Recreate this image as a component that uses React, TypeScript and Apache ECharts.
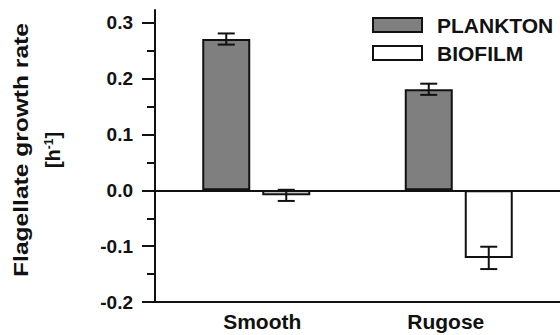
import React, { useEffect, useRef } from "react";
import * as echarts from "echarts";

const categories = ["Smooth", "Rugose"];
const seriesNames = ["PLANKTON", "BIOFILM"];
const planktonValues = [0.271, 0.181];
const biofilmValues = [-0.009, -0.121];
const planktonErrors = [0.01, 0.01];
const biofilmErrors = [0.01, 0.02];
const majorTicks = [-0.2, -0.1, 0, 0.1, 0.2, 0.3];
const minorTicks = [-0.15, -0.05, 0.05, 0.15, 0.25];

const FONT = "'Liberation Sans', Arial, Helvetica, sans-serif";
const INK = "#111";
const GRAY = "#7f7f7f";
const BAR_W = 48;
const BAR_GAP_PX = 12;
const OFFSET = (BAR_W + BAR_GAP_PX) / 2;

function errorSeries(values: number[], errors: number[], dx: number) {
  return {
    type: "custom",
    z: 5,
    silent: true,
    data: values.map((v, i) => [i, v - errors[i], v + errors[i]]),
    encode: { x: 0, y: [1, 2] },
    renderItem: (params: any, api: any) => {
      const idx = api.value(0);
      const lo = api.coord([idx, api.value(1)]);
      const hi = api.coord([idx, api.value(2)]);
      const x = lo[0] + dx;
      const half = 8.5;
      const style = { stroke: INK, lineWidth: 2, fill: "none" };
      return {
        type: "group",
        children: [
          { type: "line", shape: { x1: x, y1: lo[1], x2: x, y2: hi[1] }, style },
          { type: "line", shape: { x1: x - half, y1: lo[1], x2: x + half, y2: lo[1] }, style },
          { type: "line", shape: { x1: x - half, y1: hi[1], x2: x + half, y2: hi[1] }, style },
        ],
      };
    },
  };
}

function legendItem(name: string, fill: string, top: number) {
  return [
    {
      type: "rect",
      shape: { x: 373, y: top, width: 49, height: 14 },
      style: { fill, stroke: INK, lineWidth: 2 },
    },
    {
      type: "text",
      x: 437,
      y: top + 7.5,
      scaleX: 1.05,
      style: {
        text: name,
        fontSize: 20,
        fontWeight: "bold",
        fontFamily: FONT,
        fill: INK,
        align: "left",
        verticalAlign: "middle",
        textAlign: "left",
        textVerticalAlign: "middle",
      },
    },
  ];
}

export default function App() {
  const ref = useRef<HTMLDivElement>(null);
  useEffect(() => {
    if (!ref.current) return;
    const chart = echarts.init(ref.current, null, { renderer: "svg" });
    const yMin = -0.2;
    const yMax = 0.323;
    const xLabelStyle = { fontSize: 21, fontWeight: "bold", fontFamily: FONT, color: INK };
    chart.setOption({
      animation: false,
      backgroundColor: "#fff",
      grid: { left: 155, top: 10, width: 407, height: 292 },
      xAxis: {
        type: "category",
        data: categories,
        axisLine: { onZero: false, lineStyle: { color: INK, width: 2 } },
        axisTick: { show: false },
        axisLabel: {
          ...xLabelStyle,
          margin: 9,
          formatter: (v: string, i: number) => (i === 0 ? `{a|${v}}` : `{b|${v}}`),
          rich: {
            a: { ...xLabelStyle, padding: [0, 0, 0, 12] },
            b: { ...xLabelStyle, padding: [0, 26, 0, 0] },
          },
        },
      },
      yAxis: [
        {
          type: "value",
          min: yMin,
          max: yMax,
          splitLine: { show: false },
          axisLine: { show: true, lineStyle: { color: INK, width: 2 } },
          axisTick: { show: true, length: 13, customValues: majorTicks, lineStyle: { color: INK, width: 2 } },
          axisLabel: {
            customValues: majorTicks,
            formatter: (v: number) => v.toFixed(1),
            fontSize: 19,
            fontWeight: "bold",
            fontFamily: FONT,
            color: INK,
            margin: 22,
          },
        },
        {
          type: "value",
          min: yMin,
          max: yMax,
          position: "left",
          splitLine: { show: false },
          axisLine: { show: false },
          axisTick: { show: true, length: 8, customValues: minorTicks, lineStyle: { color: INK, width: 2 } },
          axisLabel: { show: false },
        },
      ],
      graphic: [
        ...legendItem(seriesNames[0], GRAY, 18),
        ...legendItem(seriesNames[1], "#fff", 46),
        {
          type: "text",
          x: 21,
          y: 150,
          rotation: Math.PI / 2,
          scaleX: 1.17,
          style: {
            text: "Flagellate growth rate",
            fontSize: 21,
            fontWeight: "bold",
            fontFamily: FONT,
            fill: INK,
            align: "center",
            verticalAlign: "middle",
            textAlign: "center",
            textVerticalAlign: "middle",
          },
        },
        {
          type: "text",
          x: 53,
          y: 150,
          rotation: Math.PI / 2,
          style: {
            text: "[h{sup|-1}]",
            fontSize: 20,
            fontWeight: "bold",
            fontFamily: FONT,
            fill: INK,
            align: "center",
            verticalAlign: "middle",
            textAlign: "center",
            textVerticalAlign: "middle",
            rich: {
              sup: {
                fontSize: 12,
                fontWeight: "bold",
                fontFamily: FONT,
                fill: INK,
                verticalAlign: "top",
              },
            },
          },
        },
      ],
      series: [
        {
          name: seriesNames[0],
          type: "bar",
          data: planktonValues,
          barWidth: BAR_W,
          barGap: (BAR_GAP_PX / BAR_W) * 100 + "%",
          itemStyle: { color: GRAY, borderColor: INK, borderWidth: 2 },
          markLine: {
            silent: true,
            symbol: "none",
            label: { show: false },
            lineStyle: { color: INK, width: 2, type: "solid" },
            data: [{ yAxis: 0 }],
          },
        },
        {
          name: seriesNames[1],
          type: "bar",
          data: biofilmValues,
          barWidth: BAR_W,
          barGap: (BAR_GAP_PX / BAR_W) * 100 + "%",
          itemStyle: { color: "#fff", borderColor: INK, borderWidth: 2 },
        },
        errorSeries(planktonValues, planktonErrors, -OFFSET),
        errorSeries(biofilmValues, biofilmErrors, OFFSET),
      ],
    });
    return () => chart.dispose();
  }, []);
  return (
    <div
      ref={ref}
      style={{ position: "fixed", left: 0, top: 0, width: 560, height: 335 }}
    />
  );
}
